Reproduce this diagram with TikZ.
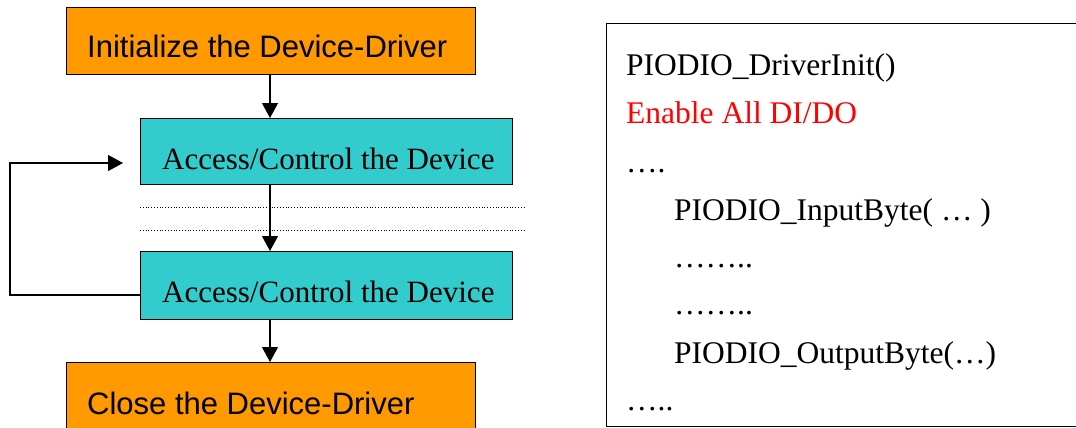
\documentclass[tikz,border=0pt]{standalone}
\usepackage{fontspec}
\setmainfont{Liberation Serif}
\newfontfamily\arialfont{Liberation Sans}
\usetikzlibrary{arrows.meta}
\definecolor{boxorange}{HTML}{FF9900}
\definecolor{boxcyan}{HTML}{33CCCC}
\tikzset{
  orangebox/.style={draw=black, line width=1.2pt, fill=boxorange, rectangle, inner sep=0pt},
  cyanbox/.style={draw=black, line width=1.2pt, fill=boxcyan, rectangle, inner sep=0pt},
  sanslabel/.style={font=\arialfont\fontsize{31}{37}\selectfont, anchor=base west, inner sep=0pt},
  seriflabel/.style={font=\fontsize{31}{37}\selectfont, anchor=base west, inner sep=0pt},
  codeline/.style={font=\fontsize{31.5}{37}\selectfont, anchor=base west, inner sep=0pt},
  flow/.style={line width=1.2pt, -{Triangle[length=15pt,width=16pt]}},
  dotline/.style={line width=0.8pt, dotted},
}
\begin{document}
\begin{tikzpicture}[x=1pt,y=-1pt]
\useasboundingbox (0,0) rectangle (1076,428);
\clip (0,0) rectangle (1076,428);
% left flow
\node[orangebox, minimum width=409pt, minimum height=67pt, anchor=north west] (init) at (66,7) {};
\node[sanslabel] (initT) at (87,58) {Initialize the Device-Driver};
\node[cyanbox, minimum width=372pt, minimum height=66pt, anchor=north west] (acc1) at (140,118) {};
\node[seriflabel] (acc1T) at (162,169) {Access/Control the Device};
\node[cyanbox, minimum width=372pt, minimum height=68pt, anchor=north west] (acc2) at (140,251) {};
\node[seriflabel] (acc2T) at (162,302) {Access/Control the Device};
\node[orangebox, minimum width=409pt, minimum height=80pt, anchor=north west] (close) at (66,362) {};
\node[sanslabel] (closeT) at (87,414) {Close the Device-Driver};
% dotted separators
\coordinate (d1a) at (140,207);
\coordinate (d1b) at (526,207);
\coordinate (d2a) at (140,230);
\coordinate (d2b) at (526,230);
\draw[dotline] (d1a) -- (d1b);
\draw[dotline] (d2a) -- (d2b);
% arrows
\draw[flow] (init.south -| 270,0) -- (acc1.north -| 270,0);
\draw[flow] (acc1.south -| 270,0) -- (acc2.north -| 270,0);
\draw[flow] (acc2.south -| 270,0) -- (close.north -| 270,0);
\coordinate (loopL) at (10,295);
\coordinate (loopEnd) at (123,163);
\draw[flow] (acc2.west |- loopL) -- (loopL) |- (loopEnd);
% right code box (right edge lies outside the picture)
\node[draw=black, line width=1.2pt, rectangle, inner sep=0pt, minimum width=520pt, minimum height=403pt, anchor=north west] (code) at (606,23) {};
\node[codeline] (c1) at (626,75) {PIODIO\_DriverInit()};
\node[codeline, text=red] (c2) at (626,123) {Enable All DI/DO};
\node[codeline] (c3) at (626,172) {….};
\node[codeline] (c4) at (674,220) {PIODIO\_InputByte( … )};
\node[codeline] (c5) at (674,267) {……..};
\node[codeline] (c6) at (674,314) {……..};
\node[codeline] (c7) at (674,363) {PIODIO\_OutputByte(…)};
\node[codeline] (c8) at (626,410) {…..};
\end{tikzpicture}
\end{document}
